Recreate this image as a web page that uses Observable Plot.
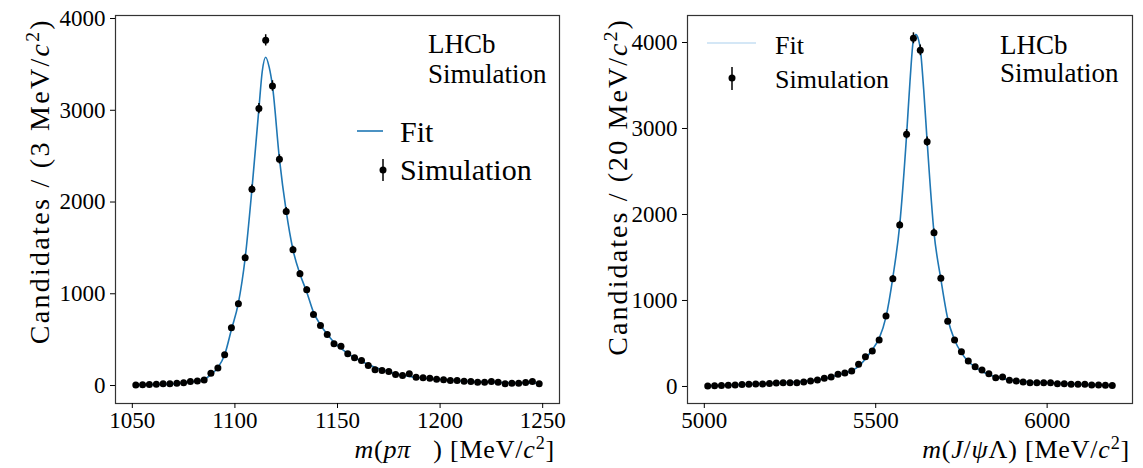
<!DOCTYPE html>
<html><head><meta charset="utf-8">
<script src="https://cdn.jsdelivr.net/npm/d3@7"></script>
<script src="https://cdn.jsdelivr.net/npm/@observablehq/plot@0.6"></script>
<style>
body{margin:0;background:#fff;}
#wrap{display:flex;width:1143px;height:468px;overflow:hidden;}
</style></head><body><div id="wrap"></div>
<script>
// ---- Left panel: m(p pi-) ----
const leftMass = [1051.7,1055.0,1058.3,1061.7,1065.0,1068.3,1071.7,1075.0,1078.3,1081.7,1085.0,1088.3,1091.7,1095.0,1098.3,1101.7,1105.0,1108.3,1111.7,1115.0,1118.3,1121.7,1125.0,1128.3,1131.7,1135.0,1138.3,1141.7,1145.0,1148.3,1151.7,1155.0,1158.3,1161.7,1165.0,1168.3,1171.7,1175.0,1178.3,1181.7,1185.0,1188.3,1191.7,1195.0,1198.3,1201.7,1205.0,1208.3,1211.7,1215.0,1218.3,1221.7,1225.0,1228.3,1231.7,1235.0,1238.3,1241.7,1245.0,1248.3];
const leftCounts = [5,8,10,14,18,20,25,30,45,50,60,135,190,335,630,890,1393,2140,3018,3762,3265,2465,1897,1480,1218,1044,774,654,556,455,429,346,302,273,218,171,164,153,120,109,127,91,84,80,69,62,55,55,47,44,36,36,44,36,18,25,25,33,44,18];
const leftFitMass = [1051.7,1060,1070,1075,1080,1085,1088.3,1091.7,1095,1098.3,1101.7,1105,1108.3,1111.7,1113.3,1115,1116.7,1118.3,1121.7,1125,1128.3,1131.7,1135,1138.3,1141.7,1145,1148.3,1151.7,1155,1158.3,1161.7,1165,1170,1175,1180,1185,1190,1200,1210,1220,1230,1240,1248.3];
const leftFitCounts = [5,10,18,28,42,65,120,195,335,610,900,1390,2140,3020,3420,3578,3470,3265,2470,1900,1480,1215,1020,800,660,560,470,405,350,305,265,230,185,150,120,100,85,65,50,40,32,27,24];
const leftXTicks = [1050,1100,1150,1200,1250];

// ---- Right panel: m(J/psi Lambda) ----
const rightMass = [5010,5030,5050,5070,5090,5110,5130,5150,5170,5190,5210,5230,5250,5270,5290,5310,5330,5350,5370,5390,5410,5430,5450,5470,5490,5510,5530,5550,5570,5590,5610,5630,5650,5670,5690,5710,5730,5750,5770,5790,5810,5830,5850,5870,5890,5910,5930,5950,5970,5990,6010,6030,6050,6070,6090,6110,6130,6150,6170,6190];
const rightCounts = [6,8,12,15,18,22,25,28,30,35,40,44,44,44,52,64,76,95,110,142,157,180,258,347,413,541,820,1253,1878,2933,4049,3909,2847,1788,1258,758,541,405,297,230,192,149,102,110,72,64,52,44,44,44,44,33,33,25,25,25,18,18,14,10];
const rightFitMass = [5010,5050,5100,5150,5200,5250,5300,5350,5390,5430,5450,5470,5490,5510,5530,5550,5570,5590,5600,5610,5617,5625,5630,5640,5650,5670,5690,5710,5730,5750,5770,5790,5810,5830,5850,5870,5900,5950,6000,6050,6100,6150,6190];
const rightFitCounts = [8,12,20,28,38,48,62,90,135,185,235,320,430,560,810,1270,1880,2920,3550,4030,4092,4030,3930,3450,2850,1790,1250,790,540,390,290,225,175,140,110,90,70,52,42,33,24,17,12];
const rightXTicks = [5000,5500,6000];

const yTicks = [0,1000,2000,3000,4000];

const FONT = '"Liberation Serif", "Times New Roman", serif';
const BLUE = "#1f77b4";

function panel(o){
  const data = o.mass.map((m,i)=>({m, n:o.counts[i]}));
  const fit = o.fitMass.map((m,i)=>({m, n:o.fitCounts[i]}));
  return Plot.plot({
    width:o.width, height:468,
    marginLeft:o.ml, marginRight:o.mr, marginTop:15, marginBottom:65,
    style:{fontFamily:FONT, fontSize:"23px", color:"#000", background:"#fff", overflow:"visible"},
    x:{domain:o.xDomain},
    y:{domain:o.yDomain},
    marks:[
      Plot.line(fit,{x:"m",y:"n",stroke:BLUE,strokeWidth:1.6,curve:"monotone-x"}),
      Plot.ruleX(data,{x:"m",y1:d=>d.n-Math.sqrt(d.n),y2:d=>d.n+Math.sqrt(d.n),stroke:"#000",strokeWidth:1.5}),
      Plot.dot(data,{x:"m",y:"n",r:3.5,fill:"#000",stroke:null}),
      Plot.frame({stroke:"#333",strokeWidth:1.2}),
      Plot.axisX({ticks:o.xTicks,tickSize:5,tickPadding:3,label:null,tickFormat:d=>String(d)}),
      Plot.axisY({ticks:yTicks,tickSize:5,tickPadding:5,label:null,tickFormat:d=>String(d)})
    ]
  });
}

function rich(sel, parts){
  let up = false;
  parts.forEach(p=>{
    const ts = sel.append("tspan").text(p.t);
    if(p.i) ts.attr("font-style","italic");
    if(p.dx) ts.attr("dx",p.dx);
    if(p.sup){ ts.attr("font-size","70%").attr("dy","-0.5em"); up = true; }
    else if(up){ ts.attr("dy","0.35em"); up = false; }
  });
  return sel;
}
function txt(svg,x,y,size,parts,anchor,rot,ls){
  const t = svg.append("text").attr("font-family",FONT).attr("font-size",size)
    .attr("fill","#000").attr("text-anchor",anchor||"start");
  if(ls) t.attr("letter-spacing",ls);
  if(rot) t.attr("transform",`translate(${x},${y}) rotate(-90)`);
  else t.attr("x",x).attr("y",y);
  return rich(t,parts);
}

const wrap = document.getElementById("wrap");

// Left
const L = panel({mass:leftMass,counts:leftCounts,fitMass:leftFitMass,fitCounts:leftFitCounts,
  width:571, ml:115, mr:12, xDomain:[1041.8,1258.2], yDomain:[-196,4033], xTicks:leftXTicks});
wrap.appendChild(L);
{
  const s = d3.select(L);
  txt(s,428,53,"27px",[{t:"LHCb"}]);
  txt(s,428,83,"27px",[{t:"Simulation"}]);
  s.append("line").attr("x1",357).attr("x2",383).attr("y1",131).attr("y2",131).attr("stroke",BLUE).attr("stroke-width",1.6);
  txt(s,400,142,"30px",[{t:"Fit"}]);
  s.append("line").attr("x1",383).attr("x2",383).attr("y1",159).attr("y2",181).attr("stroke","#000").attr("stroke-width",1.5);
  s.append("circle").attr("cx",383).attr("cy",170).attr("r",3.5).attr("fill","#000");
  txt(s,400,180,"30px",[{t:"Simulation"}]);
  txt(s,49,18,"28px",[{t:"Candidates / (3 MeV/"},{t:"c",i:1},{t:"2",sup:1},{t:")"}],"end",true,"2.3px");
  txt(s,555,458,"26px",[{t:"m",i:1},{t:"("},{t:"pπ",i:1},{t:") [MeV/",dx:22},{t:"c",i:1},{t:"2",sup:1},{t:"]"}],"end",false,"0.8px");
}

// Right
const R = panel({mass:rightMass,counts:rightCounts,fitMass:rightFitMass,fitCounts:rightFitCounts,
  width:572, ml:116, mr:11, xDomain:[4951,6249], yDomain:[-198,4314], xTicks:rightXTicks});
wrap.appendChild(R);
{
  const s = d3.select(R);
  s.append("line").attr("x1",136).attr("x2",185).attr("y1",43).attr("y2",43).attr("stroke","#a9d0ee").attr("stroke-width",1.2);
  txt(s,204,54,"26px",[{t:"Fit"}]);
  s.append("line").attr("x1",161).attr("x2",161).attr("y1",67).attr("y2",90).attr("stroke","#000").attr("stroke-width",1.5);
  s.append("circle").attr("cx",161).attr("cy",78).attr("r",3.5).attr("fill","#000");
  txt(s,204,88,"26px",[{t:"Simulation"}]);
  txt(s,429,54,"27px",[{t:"LHCb"}]);
  txt(s,429,82,"27px",[{t:"Simulation"}]);
  txt(s,56,18,"28px",[{t:"Candidates / (20 MeV/"},{t:"c",i:1},{t:"2",sup:1},{t:")"}],"end",true,"2.1px");
  txt(s,559,458,"26px",[{t:"m",i:1},{t:"("},{t:"J",i:1},{t:"/"},{t:"ψ",i:1},{t:"Λ) [MeV/"},{t:"c",i:1},{t:"2",sup:1},{t:"]"}],"end",false,"0.8px");
}
</script></body></html>
